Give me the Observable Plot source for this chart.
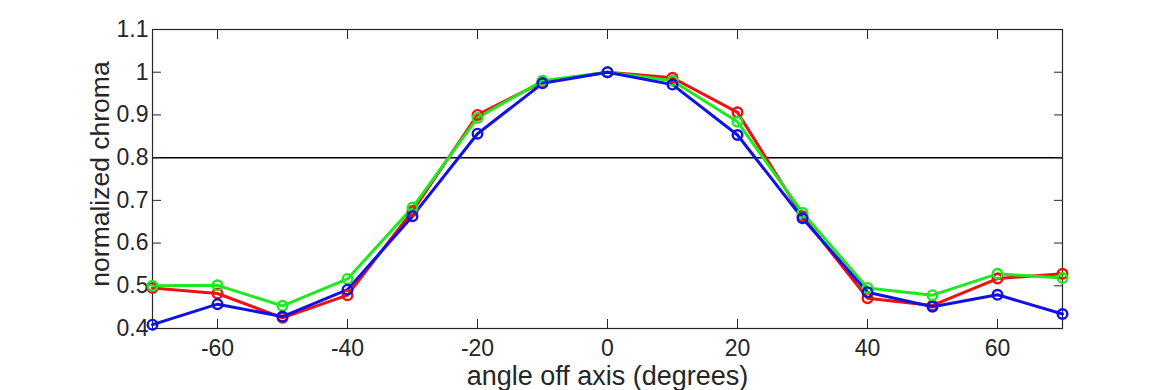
<!DOCTYPE html>
<html>
<head>
<meta charset="utf-8">
<script src="https://cdn.jsdelivr.net/npm/d3@7"></script>
<script src="https://cdn.jsdelivr.net/npm/@observablehq/plot@0.6"></script>
<style>
  html, body { margin: 0; padding: 0; background: #fff; }
  #chart { width: 1170px; height: 390px; overflow: hidden; }
</style>
</head>
<body>
<div id="chart"></div>
<script>
const angles = [-70, -60, -50, -40, -30, -20, -10, 0, 10, 20, 30, 40, 50, 60, 70];
const redValues   = [0.495, 0.482, 0.425, 0.478, 0.675, 0.900, 0.977, 1.000, 0.987, 0.906, 0.663, 0.471, 0.454, 0.517, 0.528];
const greenValues = [0.500, 0.501, 0.453, 0.516, 0.683, 0.893, 0.980, 1.000, 0.980, 0.884, 0.671, 0.495, 0.478, 0.528, 0.518];
const blueValues  = [0.409, 0.457, 0.428, 0.491, 0.663, 0.856, 0.974, 1.000, 0.971, 0.853, 0.658, 0.485, 0.451, 0.479, 0.434];
const seriesNames = ["R channel", "G channel", "B channel"];
const seriesColors = ["#f01010", "#1ee81e", "#1010e8"];
const xTicks = [-60, -40, -20, 0, 20, 40, 60];
const xTickLabels = ["-60", "-40", "-20", "0", "20", "40", "60"];
const yTicks = [0.4, 0.5, 0.6, 0.7, 0.8, 0.9, 1.0, 1.1];
const yTickLabels = ["0.4", "0.5", "0.6", "0.7", "0.8", "0.9", "1", "1.1"];
const threshold = [0.8];
const xLabel = "angle off axis (degrees)";
const yLabel = "normalized chroma";

const allValues = [redValues, greenValues, blueValues];
const data = seriesNames.flatMap((s, i) =>
  angles.map((a, j) => ({series: s, angle: a, value: allValues[i][j]}))
);

const xFmt = d => xTickLabels[xTicks.indexOf(d)];
const yFmt = d => yTickLabels[yTicks.findIndex(t => Math.abs(t - d) < 1e-9)];
const axisColor = "#262626";

const chart = Plot.plot({
  width: 1170,
  height: 390,
  marginLeft: 152,
  marginRight: 108,
  marginTop: 29,
  marginBottom: 62,
  style: {fontFamily: "Liberation Sans, Arial, sans-serif", background: "#fff", color: axisColor, overflow: "visible"},
  x: {domain: [-70, 70]},
  y: {domain: [0.4, 1.1]},
  color: {domain: seriesNames, range: seriesColors},
  marks: [
    Plot.ruleY(threshold, {stroke: "#000", strokeWidth: 1.5}),
    // inward ticks on all four sides
    Plot.axisX({ticks: xTicks, anchor: "bottom", tickSize: -9, tickFormat: () => "", label: null, stroke: axisColor}),
    Plot.axisX({ticks: xTicks, anchor: "top", tickSize: -9, tickFormat: () => "", label: null, stroke: axisColor}),
    Plot.axisY({ticks: yTicks, anchor: "left", tickSize: -9, tickFormat: () => "", label: null, stroke: axisColor}),
    Plot.axisY({ticks: yTicks, anchor: "right", tickSize: -9, tickFormat: () => "", label: null, stroke: axisColor}),
    // tick labels
    Plot.axisX({ticks: xTicks, anchor: "bottom", tickSize: 0, tickPadding: 11, tickFormat: xFmt, label: null, fontSize: 23, fill: axisColor}),
    Plot.axisY({ticks: yTicks, anchor: "left", tickSize: 0, tickPadding: 4, tickFormat: yFmt, label: null, fontSize: 23, fill: axisColor}),
    Plot.frame({stroke: axisColor, strokeWidth: 1.2}),
    Plot.line(data, {x: "angle", y: "value", z: "series", stroke: "series", strokeWidth: 3}),
    Plot.dot(data, {x: "angle", y: "value", stroke: "series", r: 4.8, strokeWidth: 2.4, fill: "none"}),
    Plot.text([xLabel], {frameAnchor: "bottom", dy: 48, lineAnchor: "middle", textAnchor: "middle", fontSize: 27, fill: axisColor}),
    Plot.text([yLabel], {frameAnchor: "left", dx: -52, dy: -5, rotate: -90, textAnchor: "middle", lineAnchor: "middle", fontSize: 26.5, fill: axisColor})
  ]
});
document.getElementById("chart").appendChild(chart);
</script>
</body>
</html>
